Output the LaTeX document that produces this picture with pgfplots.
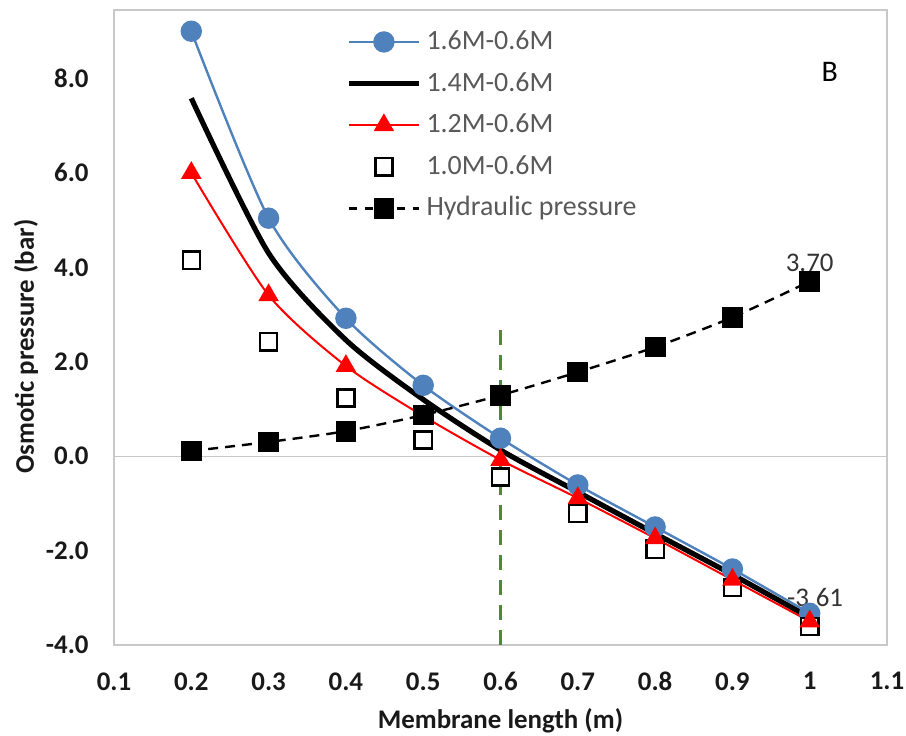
\documentclass[border=0pt]{standalone}
\usepackage{pgfplots}
\pgfplotsset{compat=1.18}
\usepackage{fontspec}
\setmainfont{Carlito}

\definecolor{xlblue}{HTML}{4F81BD}
\definecolor{xlred}{HTML}{FF0000}
\definecolor{xlgreen}{HTML}{4F8A2E}
\definecolor{frame}{HTML}{C8C8C8}
\definecolor{txtgray}{HTML}{595959}

\begin{document}
\begin{tikzpicture}
\begin{axis}[
    scale only axis,
    width=386.5bp, height=317.5bp,
    xmin=0.1, xmax=1.1,
    ymin=-4, ymax=9.45,
    xtick={0.1,0.2,0.3,0.4,0.5,0.6,0.7,0.8,0.9,1.0,1.1},
    xticklabels={0.1,0.2,0.3,0.4,0.5,0.6,0.7,0.8,0.9,1,1.1},
    ytick={-4,-2,0,2,4,6,8},
    yticklabels={-4.0,-2.0,0.0,2.0,4.0,6.0,8.0},
    major tick length=0pt,
    axis line style={frame, line width=0.6bp},
    tick label style={font=\fontsize{13.5}{16}\selectfont\bfseries, text=black!90},
    xticklabel style={anchor=north, inner sep=0pt, yshift=-13.5bp},
    yticklabel style={anchor=east, inner sep=0pt, xshift=-12.5bp},
    xlabel={Membrane length (m)},
    ylabel={Osmotic pressure (bar)},
    label style={font=\fontsize{13.5}{16}\selectfont\bfseries, text=black!90, inner sep=0pt},
    xlabel style={at={(rel axis cs:0.5,-0.099)}, anchor=north},
    ylabel style={at={(rel axis cs:-0.13,0.47)}, anchor=north},
    legend style={at={(rel axis cs:0.300,0.981)}, anchor=north west,
        draw=none, fill=none, inner sep=0pt, row sep=1.3bp,
        font=\fontsize{14}{16}\selectfont, text=txtgray,
        nodes={inner sep=2.5bp, text height=11bp, text depth=3.5bp}},
    legend cell align=left,
    legend image code/.code={%
        \draw[mark repeat=2, mark phase=2, #1] plot coordinates {(0bp,0bp) (17.5bp,0bp) (35bp,0bp)};},
]

% legend entries, in the order of the reference
\addlegendimage{xlblue, line width=1.2bp, mark=*, mark size=4.75bp, mark options={solid, fill=xlblue, draw=xlblue}}
\addlegendentry{1.6M-0.6M}
\addlegendimage{black, line width=2.6bp}
\addlegendentry{1.4M-0.6M}
\addlegendimage{xlred, line width=1bp, mark=triangle*, mark size=4.9bp, mark options={solid, fill=xlred, draw=xlred}}
\addlegendentry{1.2M-0.6M}
\addlegendimage{legend image code/.code={%
    \draw[mark=square*, mark size=4.3bp, mark options={solid, fill=white, draw=black, line width=1.2bp}]
        plot coordinates {(17.5bp,0bp)};}}
\addlegendentry{1.0M-0.6M}
\addlegendimage{black, line width=1.2bp, dash pattern=on 4bp off 4bp, mark=square*, mark size=4.6bp, mark options={solid, fill=black, draw=black}}
\addlegendentry{Hydraulic pressure}

% zero line
\addplot[frame, line width=0.6bp, forget plot] coordinates {(0.1,0) (1.1,0)};

% 1.6M-0.6M
\addplot[xlblue, line width=1.2bp, smooth, tension=0.45, mark=*, mark size=4.75bp,
    mark options={fill=xlblue, draw=xlblue}, forget plot] coordinates {
    (0.2,9.00) (0.3,5.04) (0.4,2.92) (0.5,1.50) (0.6,0.38)
    (0.7,-0.61) (0.8,-1.50) (0.9,-2.39) (1.0,-3.33)};

% 1.4M-0.6M
\addplot[black, line width=2.6bp, smooth, tension=0.45, forget plot] coordinates {
    (0.2,7.58) (0.3,4.30) (0.4,2.46) (0.5,1.20) (0.6,0.13)
    (0.7,-0.76) (0.8,-1.64) (0.9,-2.51) (1.0,-3.42)};

% 1.0M-0.6M
\addplot[only marks, mark=square*, mark size=4.3bp,
    mark options={fill=white, draw=black, line width=1.2bp}, forget plot] coordinates {
    (0.2,4.15) (0.3,2.42) (0.4,1.23) (0.5,0.34) (0.6,-0.44)
    (0.7,-1.21) (0.8,-1.97) (0.9,-2.78) (1.0,-3.61)};

% 1.2M-0.6M
\addplot[xlred, line width=1bp, smooth, tension=0.45, mark=triangle*, mark size=4.9bp,
    mark options={fill=xlred, draw=xlred}, forget plot] coordinates {
    (0.2,6.00) (0.3,3.41) (0.4,1.91) (0.5,0.85) (0.6,-0.08)
    (0.7,-0.89) (0.8,-1.74) (0.9,-2.62) (1.0,-3.50)};

% Hydraulic pressure
\addplot[black, line width=1.2bp, dash pattern=on 5bp off 3.5bp, smooth, tension=0.45,
    mark=square*, mark size=4.6bp, mark options={solid, fill=black, draw=black}, forget plot] coordinates {
    (0.2,0.11) (0.3,0.30) (0.4,0.53) (0.5,0.87) (0.6,1.29)
    (0.7,1.78) (0.8,2.31) (0.9,2.94) (1.0,3.70)};

% vertical marker at 0.6 m
\addplot[xlgreen, line width=1.5bp, dash pattern=on 7.5bp off 5bp, forget plot]
    coordinates {(0.6,-4) (0.6,2.7)};

\node[font=\fontsize{13.5}{16}\selectfont, text=black!80] at (axis cs:1.0,4.09) {3.70};
\node[font=\fontsize{13.5}{16}\selectfont, text=black!80] at (axis cs:1.007,-2.99) {-3.61};
\node[font=\fontsize{15}{18}\selectfont] at (axis cs:1.026,8.14) {B};

\end{axis}
\path ([xshift=-57bp, yshift=-45.5bp]current axis.south west)
    rectangle ([xshift=9.5bp, yshift=5bp]current axis.north east);
\end{tikzpicture}
\end{document}
